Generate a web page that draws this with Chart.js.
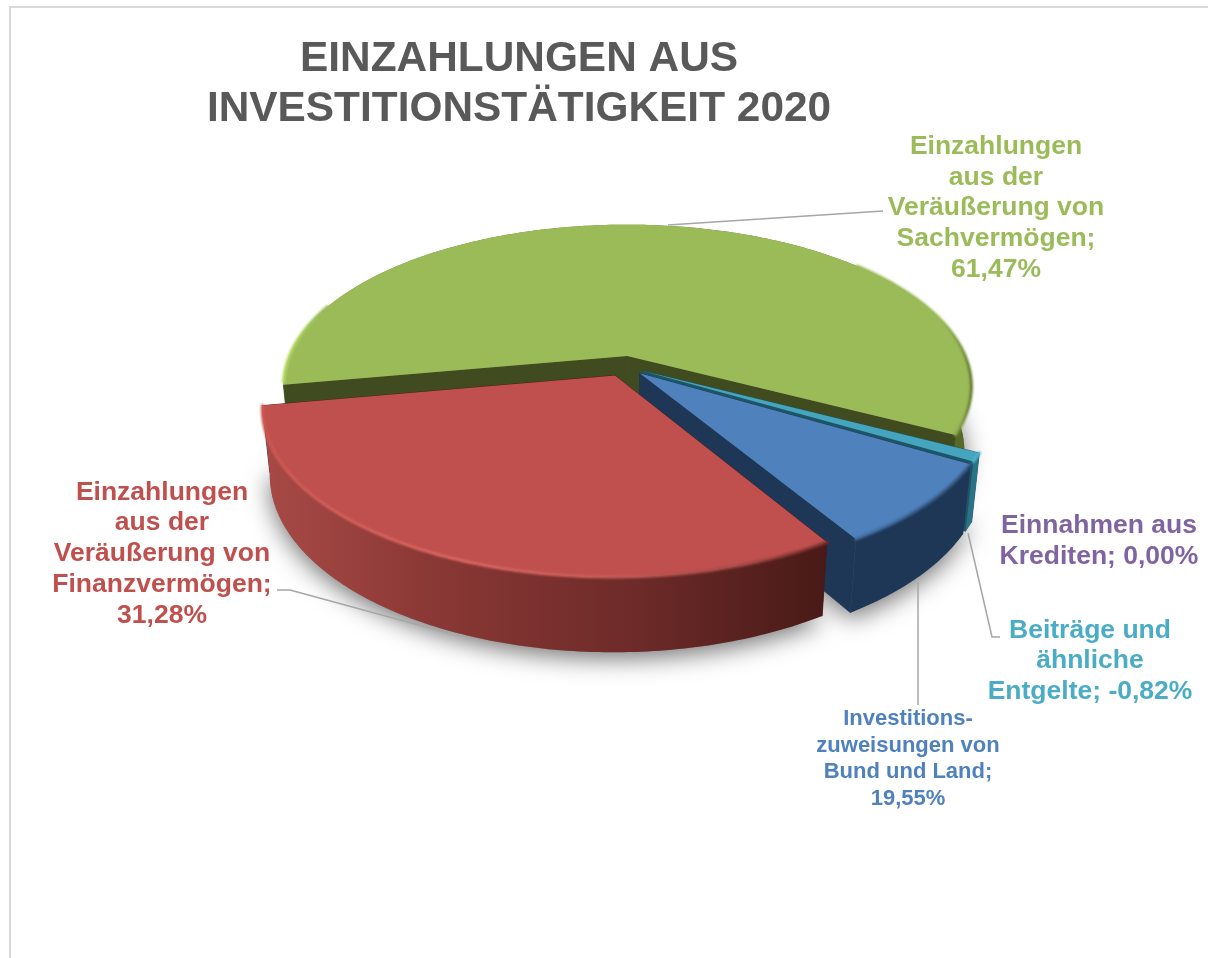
<!DOCTYPE html>
<html>
<head>
<meta charset="utf-8">
<script src="https://cdn.jsdelivr.net/npm/chart.js@4/dist/chart.umd.js"></script>
<style>html,body{margin:0;padding:0;background:#fff}#w{position:relative;width:1208px;height:958px}</style>
</head>
<body>
<div id="w"><canvas id="c" width="1208" height="958"></canvas></div>
<script>
const categories = ['Einzahlungen aus der Veräußerung von Sachvermögen','Einnahmen aus Krediten','Beiträge und ähnliche Entgelte','Investitionszuweisungen von Bund und Land','Einzahlungen aus der Veräußerung von Finanzvermögen'];
// visible slice sizes
const sliceSizes = [61.47, 0, 0.82, 8.0, 31.28];
const sliceColors = ['#9BBB59','#8064A2','#45A5BF','#4F81BD','#C0504D'];
const titleLines = ['EINZAHLUNGEN AUS','INVESTITIONSTÄTIGKEIT 2020'];
const labelGreen = ['Einzahlungen','aus der','Veräußerung von','Sachvermögen;','61,47%'];
const labelPurple = ['Einnahmen aus','Krediten; 0,00%'];
const labelTeal = ['Beiträge und','ähnliche','Entgelte; -0,82%'];
const labelBlue = ['Investitions-','zuweisungen von','Bund und Land;','19,55%'];
const labelRed = ['Einzahlungen','aus der','Veräußerung von','Finanzvermögen;','31,28%'];

const P3 = {Rx:342, Ry:159.6, k:0.1885, m:0.02, H:66};
const D = Math.PI/180;
// rim ranges are degrees along the slice, measured from its start; to = null means up to its end
const wallStyles = [
  {cut:'#404B1F', outerFirst:true, outer:[[0,'#8fae4a'],[0.4,'#5d6f2c'],[1,'#566a28']],
   rims:[{from:150,to:null,stops:[[0,'#9bbb59'],[0.955,'#9bbb59'],[0.985,'#7f9a45'],[1,'#64792f']]},
         {from:1,to:30,stops:[[0,'#b6dc62'],[0.03,'#a9cf5c'],[0.05,'#9bbb59'],[1,'#9bbb59']]}]},
  {cut:'#403252', outer:[[0,'#403252'],[1,'#403252']], rims:[]},
  {cut:'#1D5566', outer:[[0,'#2a7386'],[1,'#2a7386']], rims:[{from:0,to:null,stops:[[0,'#4fb4cf'],[1,'#4fb4cf']]}]},
  {cut:'#1F3756', outer:[[0,'#1F3756'],[1,'#1F3756']], rims:[{from:0,to:null,stops:[[0,'#3f6a9e'],[1,'#35597f']]}]},
  {cut:'#4a1a18', outer:[[0,'#a84a46'],[0.3,'#8a3835'],[0.65,'#6e2b29'],[1,'#481a17']],
   rims:[{from:0,to:null,stops:[[0,'#cf5955'],[0.35,'#dc6762'],[0.6,'#c65d59'],[0.85,'#a04744'],[1,'#7a2f2c']]}]}
];
const drawOrder = [0,2,3,4];

function pt(arc, a, rad, z){
  const R = arc.outerRadius, mid = (arc.startAngle+arc.endAngle)/2;
  const d = ((arc.options.offset||0)/4)/R;
  const u = rad*Math.cos(a)+d*Math.cos(mid), v = rad*Math.sin(a)+d*Math.sin(mid);
  const w = 1-P3.k*v+P3.m*z;
  return [arc.x+P3.Rx*u/w, arc.y+(P3.Ry*v+P3.H*z)/w];
}
function rimPts(arc, z, a0, a1){
  const s=a0===undefined?arc.startAngle:a0, e=a1===undefined?arc.endAngle:a1;
  const out=[], n=Math.max(4,Math.ceil((e-s)/0.015));
  for(let i=0;i<=n;i++){out.push(pt(arc, s+(e-s)*i/n,1,z));}
  return out;
}
function poly(ctx, pts){ctx.beginPath();pts.forEach((p,i)=>i?ctx.lineTo(p[0],p[1]):ctx.moveTo(p[0],p[1]));ctx.closePath();}
function grad(ctx,x0,x1,stops){const g=ctx.createLinearGradient(x0,0,x1,0);stops.forEach(s=>g.addColorStop(s[0],s[1]));return g;}
function textBlock(ctx, lines, cx, ys, font, color){
  ctx.font=font;ctx.fillStyle=color;ctx.textAlign='center';ctx.textBaseline='middle';
  lines.forEach((t,i)=>ctx.fillText(t,cx,ys[i]));
}
function leader(ctx, pts){
  ctx.beginPath();pts.forEach((p,i)=>i?ctx.lineTo(p[0],p[1]):ctx.moveTo(p[0],p[1]));
  ctx.strokeStyle='#a6a6a6';ctx.lineWidth=1.5;ctx.lineJoin='round';ctx.stroke();
}

const pie3d = {
  id:'pie3d',
  beforeDatasetsDraw(chart){
    const ctx=chart.ctx, arcs=chart.getDatasetMeta(0).data;
    ctx.save();
    ctx.strokeStyle='#d9d9d9';ctx.lineWidth=2;
    ctx.beginPath();ctx.moveTo(10,958);ctx.lineTo(10,7);ctx.lineTo(1208,7);ctx.stroke();
    leader(ctx,[[668,225],[883,211]]);
    ctx.save();
    ctx.shadowColor='rgba(0,0,0,0.55)';ctx.shadowBlur=24;ctx.shadowOffsetY=6;
    drawOrder.forEach(i=>{
      const a=arcs[i];
      poly(ctx,[pt(a,0,0,1)].concat(rimPts(a,1)));
      ctx.fillStyle='#888';ctx.fill();
    });
    ctx.restore();
    drawOrder.forEach(i=>{
      const a=arcs[i], st=wallStyles[i];
      const top=rimPts(a,0), bot=rimPts(a,1);
      const cT=pt(a,0,0,0), cB=pt(a,0,0,1);
      const xs=top.concat(bot).map(p=>p[0]);
      const x0=Math.min(...xs), x1=Math.max(...xs);
      const cuts=()=>{
        ctx.fillStyle=st.cut;ctx.strokeStyle=st.cut;ctx.lineWidth=0.7;
        poly(ctx,[cT,top[0],bot[0],cB]);ctx.fill();ctx.stroke();
        poly(ctx,[cT,top[top.length-1],bot[bot.length-1],cB]);ctx.fill();ctx.stroke();
      };
      const outer=()=>{
        poly(ctx,top.concat(bot.slice().reverse()));
        ctx.fillStyle=grad(ctx,x0,x1,st.outer);ctx.fill();
      };
      if(st.outerFirst){outer();cuts();}else{cuts();outer();}
      poly(ctx,[cT].concat(top));
      ctx.fillStyle=a.options.backgroundColor;ctx.fill();
      // soft bevel at the rim
      st.rims.forEach(r=>{
        const s=a.startAngle+r.from*D, e=r.to===null?a.endAngle:a.startAngle+r.to*D;
        const pts=rimPts(a,0,s,e);
        ctx.save();
        ctx.beginPath();pts.forEach((p,j)=>j?ctx.lineTo(p[0],p[1]):ctx.moveTo(p[0],p[1]));
        ctx.strokeStyle=grad(ctx,x0,x1,r.stops);ctx.lineWidth=3;ctx.lineCap='round';
        ctx.filter='blur(1.2px)';
        ctx.stroke();
        ctx.restore();
      });
    });
    leader(ctx,[[277,590],[290,590],[448,633]]);
    leader(ctx,[[918,582],[918,705]]);
    leader(ctx,[[968,533],[992,637],[1000,637]]);
    textBlock(ctx,titleLines,519,[59,109],'bold 42.4px "Liberation Sans"','#595959');
    const f='bold 26.5px "Liberation Sans"';
    textBlock(ctx,labelGreen,996,[147,178,208,239,270],f,'#9BBB59');
    textBlock(ctx,labelRed,162,[493,523,554,585,616],f,'#C0504D');
    textBlock(ctx,labelPurple,1099,[526,557],f,'#8064A2');
    textBlock(ctx,labelTeal,1090,[631,661,692],f,'#4BACC6');
    textBlock(ctx,labelBlue,908,[719,746,772,799],'bold 22px "Liberation Sans"','#4F81BD');
    ctx.restore();
    return false;
  }
};

new Chart(document.getElementById('c'),{
  type:'pie',
  data:{labels:categories,datasets:[{data:sliceSizes,backgroundColor:sliceColors,borderWidth:0,offset:68}]},
  options:{
    responsive:false,animation:false,rotation:-100.3,
    layout:{padding:{left:324,right:284,top:66,bottom:292}},
    plugins:{legend:{display:false},tooltip:{enabled:false},title:{display:false}}
  },
  plugins:[pie3d]
});
</script>
</body>
</html>
